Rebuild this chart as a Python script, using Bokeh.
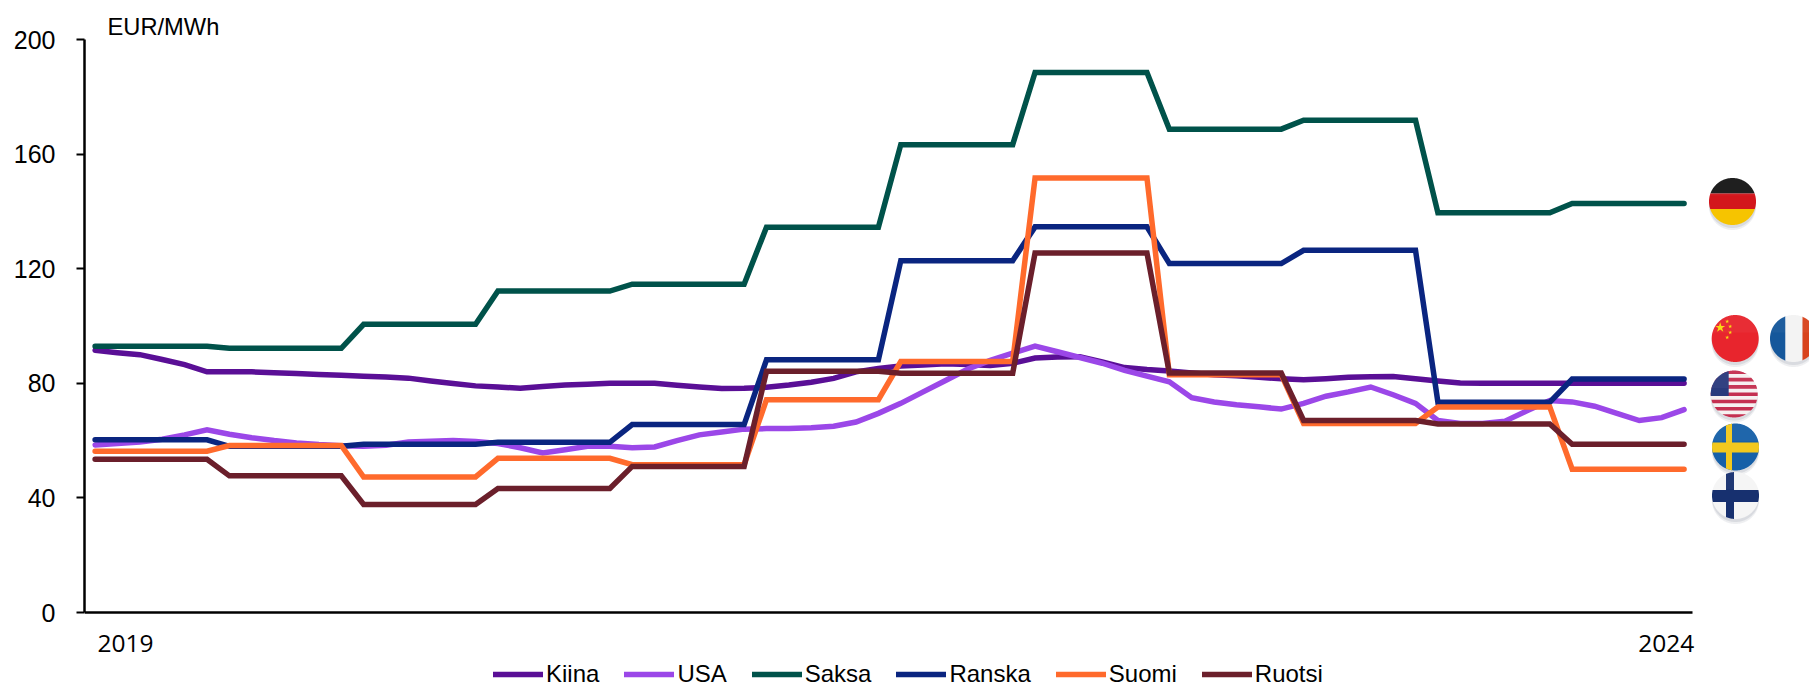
import numpy as np
from bokeh.embed import file_html
from bokeh.resources import INLINE
from bokeh.plotting import figure
from bokeh.models import Range1d, FixedTicker, Legend, LegendItem, Label

months = list(range(72))
kiina = [91.5,90.7,90.0,88.3,86.5,84.0, 84.0,84.0,83.7,83.4,83.1,82.8, 82.5,82.2,81.8,80.8,79.9,79.1,
         78.7,78.3,78.9,79.4,79.7,80.0, 80.0,80.0,79.3,78.7,78.2,78.3, 78.6,79.4,80.4,81.7,84.0,85.2,
         86.0,86.4,86.8,86.6,86.2,87.0, 88.8,89.2,89.3,87.5,85.5,84.8, 84.3,83.6,83.0,82.6,82.1,81.6,
         81.2,81.6,82.1,82.3,82.4,81.6, 80.8,80.1,80.0,80.0,80.0,80.0, 80.0,80.0,80.0,80.0,80.0,80.0]
usa = [58.5,59.0,59.5,60.5,62.0,63.8, 62.2,61.0,60.0,59.2,58.6,58.2, 58.0,58.4,59.5,59.8,60.0,59.7,
       59.0,57.5,55.7,56.8,58.0,58.0, 57.5,57.8,60.0,62.0,63.0,64.0, 64.2,64.2,64.5,65.0,66.5,69.5,
       73.0,77.0,81.0,85.0,88.0,90.5, 93.0,91.0,89.0,87.0,84.5,82.5, 80.5,75.0,73.5,72.5,71.8,71.0,
       73.0,75.5,77.0,78.7,76.0,73.0, 67.0,66.0,66.0,66.8,70.5,74.0, 73.5,72.0,69.5,67.0,68.0,70.8]
saksa = [92.9,92.9,92.9,92.9,92.9,92.9, 92.2,92.2,92.2,92.2,92.2,92.2, 100.6,100.6,100.6,100.6,100.6,100.6,
         112.2,112.2,112.2,112.2,112.2,112.2, 114.6,114.6,114.6,114.6,114.6,114.6, 134.5,134.5,134.5,134.5,134.5,134.5,
         163.3,163.3,163.3,163.3,163.3,163.3, 188.5,188.5,188.5,188.5,188.5,188.5, 168.7,168.7,168.7,168.7,168.7,168.7,
         171.8,171.8,171.8,171.8,171.8,171.8, 139.5,139.5,139.5,139.5,139.5,139.5, 142.8,142.8,142.8,142.8,142.8,142.8]
ranska = [60.3,60.3,60.3,60.3,60.3,60.3, 58.0,58.0,58.0,58.0,58.0,58.0, 58.7,58.7,58.7,58.7,58.7,58.7,
          59.4,59.4,59.4,59.4,59.4,59.4, 65.6,65.6,65.6,65.6,65.6,65.6, 88.2,88.2,88.2,88.2,88.2,88.2,
          122.8,122.8,122.8,122.8,122.8,122.8, 134.6,134.6,134.6,134.6,134.6,134.6, 121.8,121.8,121.8,121.8,121.8,121.8,
          126.4,126.4,126.4,126.4,126.4,126.4, 73.4,73.4,73.4,73.4,73.4,73.4, 81.5,81.5,81.5,81.5,81.5,81.5]
suomi = [56.3,56.3,56.3,56.3,56.3,56.3, 58.3,58.3,58.3,58.3,58.3,58.3, 47.3,47.3,47.3,47.3,47.3,47.3,
         53.8,53.8,53.8,53.8,53.8,53.8, 51.6,51.6,51.6,51.6,51.6,51.6, 74.3,74.3,74.3,74.3,74.3,74.3,
         87.6,87.6,87.6,87.6,87.6,87.6, 151.7,151.7,151.7,151.7,151.7,151.7, 83.0,83.0,83.0,83.0,83.0,83.0,
         66.0,66.0,66.0,66.0,66.0,66.0, 71.7,71.7,71.7,71.7,71.7,71.7, 50.0,50.0,50.0,50.0,50.0,50.0]
ruotsi = [53.5,53.5,53.5,53.5,53.5,53.5, 47.7,47.7,47.7,47.7,47.7,47.7, 37.7,37.7,37.7,37.7,37.7,37.7,
          43.3,43.3,43.3,43.3,43.3,43.3, 51.0,51.0,51.0,51.0,51.0,51.0, 84.2,84.2,84.2,84.2,84.2,84.2,
          83.5,83.5,83.5,83.5,83.5,83.5, 125.5,125.5,125.5,125.5,125.5,125.5, 83.6,83.6,83.6,83.6,83.6,83.6,
          67.0,67.0,67.0,67.0,67.0,67.0, 65.8,65.8,65.8,65.8,65.8,65.8, 58.7,58.7,58.7,58.7,58.7,58.7]

series_names = ["Kiina", "USA", "Saksa", "Ranska", "Suomi", "Ruotsi"]
series_values = [kiina, usa, saksa, ranska, suomi, ruotsi]
series_colors = ["#5a0f96", "#9b47e8", "#00524a", "#0a2580", "#ff6a2c", "#6b1f2b"]
y_ticks = [0, 40, 80, 120, 160, 200]
x_tick_labels = {1.36: "2019", 70.2: "2024"}

# page-pixel <-> data scale
X0, DX = 94.6, 22.38
Y0, DY = 612.0, 2.865
FONT = "Liberation Sans"
W, H = 1809, 686
def fx(px): return (np.asarray(px, dtype=float) - X0) / DX
def fy(py): return (Y0 - np.asarray(py, dtype=float)) / DY

p = figure(width=W, height=H, output_backend="svg", toolbar_location=None,
           x_range=Range1d(float(fx(84)), float(fx(W))), y_range=Range1d(float(fy(H)), float(fy(0))),
           min_border_left=84, min_border_right=0, min_border_top=0, min_border_bottom=0)
p.outline_line_color = None
p.grid.visible = False
p.background_fill_color = "white"

ax = p.xaxis[0]
ax.fixed_location = 0
ax.ticker = FixedTicker(ticks=list(x_tick_labels))
ax.major_label_overrides = x_tick_labels
ax.bounds = (float(fx(84)), float(fx(1692)))
ax.major_tick_line_color = None
ax.minor_tick_line_color = None
ax.axis_line_width = 2.5
ax.axis_line_color = "#000000"
ax.major_label_text_font = "Open Sans"
ax.major_label_text_font_size = "24.5px"
ax.major_label_text_color = "#000000"
ax.major_label_standoff = 16

ay = p.yaxis[0]
ay.ticker = FixedTicker(ticks=y_ticks)
ay.bounds = (0, 200)
ay.axis_line_width = 2.5
ay.axis_line_color = "#000000"
ay.major_tick_line_width = 2
ay.major_tick_line_color = "#000000"
ay.major_tick_in = 0
ay.major_tick_out = 8
ay.minor_tick_line_color = None
ay.major_label_text_font = FONT
ay.major_label_text_font_size = "25px"
ay.major_label_text_color = "#000000"
ay.major_label_standoff = 21

items = []
for name, vals, col in zip(series_names, series_values, series_colors):
    r = p.line(months, vals, line_color=col, line_width=5.5, line_cap="round", line_join="miter")
    items.append(LegendItem(label=name, renderers=[r]))

legend = Legend(items=items, orientation="horizontal", location=(409, -2),
                glyph_width=50, glyph_height=20, label_standoff=3, spacing=25, padding=0, margin=0,
                border_line_color=None, background_fill_alpha=0,
                label_text_font=FONT, label_text_font_size="24px", label_text_color="#000000")
p.add_layout(legend, "center")

p.add_layout(Label(x=float(fx(107)), y=float(fy(26)), text="EUR/MWh", text_font=FONT, text_font_size="23.7px",
                   text_baseline="middle", text_color="#000000"))

# ---- flag icons (decoration, built in page pixels) ----
R = 23.5
def band(cx, cy, x1, x2, y1, y2):
    """Rectangle [x1,x2]x[y1,y2] (page px) clipped to the flag's circle."""
    t = np.linspace(0, 2*np.pi, 360, endpoint=False)
    xs, ys = cx + R*np.cos(t), cy + R*np.sin(t)
    pts = list(zip(xs, ys))
    def clip(poly, inside, cross):
        out = []
        for i in range(len(poly)):
            a, b = poly[i], poly[(i+1) % len(poly)]
            if inside(a):
                out.append(a)
                if not inside(b): out.append(cross(a, b))
            elif inside(b):
                out.append(cross(a, b))
        return out
    def cx_at(v):
        return lambda a, b: (v, a[1] + (b[1]-a[1])*(v-a[0])/(b[0]-a[0]))
    def cy_at(v):
        return lambda a, b: (a[0] + (b[0]-a[0])*(v-a[1])/(b[1]-a[1]), v)
    pts = clip(pts, lambda q: q[0] >= x1, cx_at(x1)); pts = clip(pts, lambda q: q[0] <= x2, cx_at(x2))
    pts = clip(pts, lambda q: q[1] >= y1, cy_at(y1)); pts = clip(pts, lambda q: q[1] <= y2, cy_at(y2))
    return [float(fx(q[0])) for q in pts], [float(fy(q[1])) for q in pts]

def paint(cx, cy, rects):
    # soft shadow
    for off, a in ((5, 0.10), (3, 0.14)):
        xs, ys = band(cx, cy + off, cx-R, cx+R, cy+off-R, cy+off+R)
        p.patch(xs, ys, fill_color="#5a6478", fill_alpha=a, line_color=None)
    for (x1, x2, y1, y2, col) in rects:
        xs, ys = band(cx, cy, cx+x1, cx+x2, cy+y1, cy+y2)
        if xs:
            p.patch(xs, ys, fill_color=col, line_color=None)
    # gloss
    xs, ys = band(cx, cy, cx-R, cx+R, cy-R, cy-6)
    p.patch(xs, ys, fill_color="#ffffff", fill_alpha=0.04, line_color=None)

F = 30
paint(1732, 201, [(-F, F, -F, -8, "#161616"), (-F, F, -8, 7.5, "#d3161c"), (-F, F, 7.5, F, "#f6c400")])
paint(1734.7, 338, [(-F, F, -F, F, "#e8252d")])
for sx, sy, sr in [(-15, -11, 3.5), (-8, -17, 1.4), (-5, -12, 1.4), (-5, -6, 1.4), (-8, -1, 1.4)]:
    p.scatter([float(fx(1734.7+sx))], [float(fy(338+sy))], marker="star", size=sr*3,
              fill_color="#f8dc14", line_color=None)
paint(1793, 338, [(-F, -8, -F, F, "#15579b"), (-8, 9, -F, F, "#f3f3f3"), (9, F, -F, F, "#d8431c")])
stripes = [(-F, F, -F, F, "#f6f0f0")]
for i in range(7):
    y = -23.5 + i*7.3
    stripes.append((-F, F, y, y+3.6, "#c42f50"))
stripes.append((-F, -5.5, -F, 2, "#2a3a7c"))
paint(1733.7, 393.5, stripes)
paint(1735, 446.5, [(-F, F, -F, F, "#1660a8"), (-9.5, -3.5, -F, F, "#f2c81e"), (-F, F, -4.5, 5.5, "#f2c81e")])
paint(1735, 495, [(-F, F, -F, F, "#f5f5f5"), (-9.5, -1.5, -F, F, "#17306f"), (-F, F, -5.5, 6.5, "#17306f")])

open("out.html", "w").write(file_html(p, INLINE))
